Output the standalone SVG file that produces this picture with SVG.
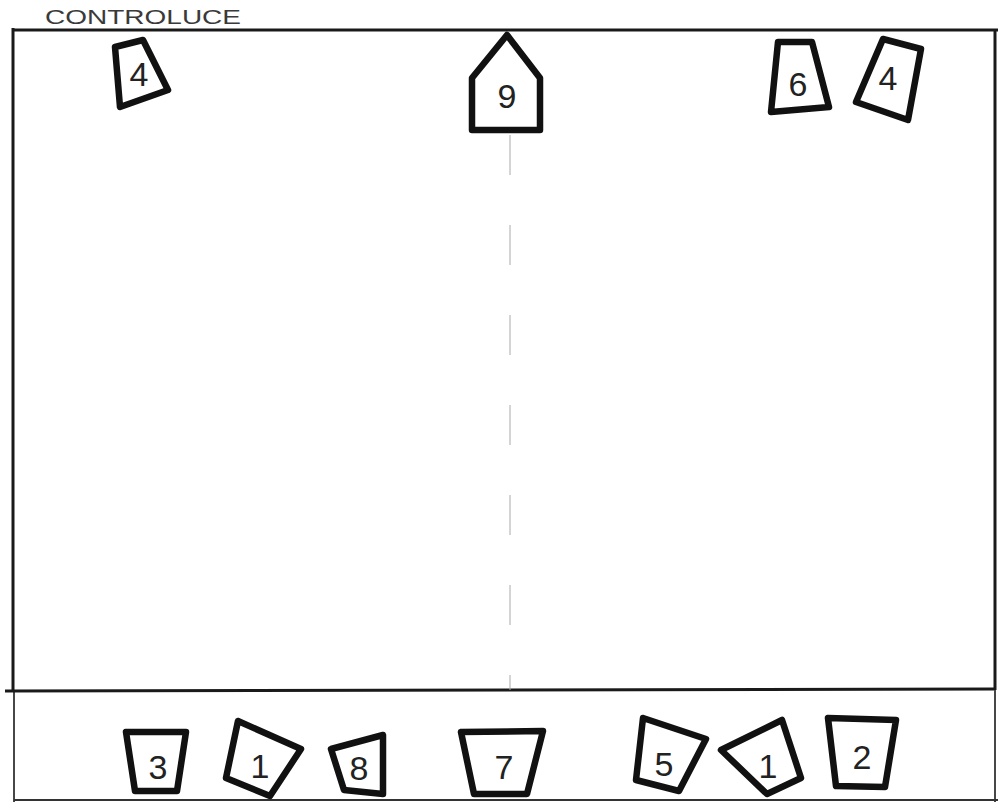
<svg xmlns="http://www.w3.org/2000/svg" width="998" height="802" viewBox="0 0 998 802">
<style>
.fx{fill:#fff;stroke:#111;stroke-width:6.5;stroke-linejoin:round}
.num{font-family:"Liberation Sans",Arial,sans-serif;font-size:34px;fill:#222;text-anchor:middle;dominant-baseline:central}
.frame{stroke:#1a1a1a;stroke-width:3;fill:none}
.thin{stroke:#333;stroke-width:1.8;fill:none}
.title{font-family:"Liberation Sans",Arial,sans-serif;font-size:20px;fill:#3a3a3a}
</style>
<rect width="998" height="802" fill="#fff"/>
<text class="title" x="45" y="24" textLength="196" lengthAdjust="spacingAndGlyphs">CONTROLUCE</text>
<g id="frame">
<line class="frame" x1="12" y1="30" x2="998" y2="30"/>
<line class="frame" x1="13" y1="28" x2="13" y2="692"/>
<line class="thin" x1="14" y1="692" x2="14" y2="802"/>
<line class="frame" x1="5" y1="691" x2="994" y2="689"/>
<line class="frame" x1="995" y1="30" x2="995" y2="690"/>
<line class="thin" x1="995" y1="690" x2="995" y2="802"/>
<line class="thin" x1="14" y1="800" x2="998" y2="800"/>
</g>
<g id="connectors">
<line x1="510" y1="135" x2="510" y2="690" stroke="#aaa" stroke-width="1" stroke-dasharray="40,50"/>
</g>
<g id="f4a"><polygon class="fx" points="115,47 143,40 168,90 120,107"/><text class="num" x="139" y="74">4</text></g>
<g id="f9"><polygon class="fx" points="507,35 540,78 540,130 472,130 472,78"/><text class="num" x="507" y="96">9</text></g>
<g id="f6"><polygon class="fx" points="778,42 812,42 829,107 771,112"/><text class="num" x="798" y="84">6</text></g>
<g id="f4b"><polygon class="fx" points="883,39 921,49 908,120 856,102"/><text class="num" x="888" y="78">4</text></g>
<g id="f3"><polygon class="fx" points="126,732 186,732 177,791 135,791"/><text class="num" x="158" y="767">3</text></g>
<g id="f1a"><polygon class="fx" points="238,721 301,749 270,796 226,778"/><text class="num" x="260" y="766">1</text></g>
<g id="f8"><polygon class="fx" points="331,749 383,735 383,794 344,790"/><text class="num" x="359" y="768">8</text></g>
<g id="f7"><polygon class="fx" points="461,732 543,731 527,794 474,794"/><text class="num" x="504" y="767">7</text></g>
<g id="f5"><polygon class="fx" points="643,718 706,739 679,791 636,780"/><text class="num" x="664" y="764">5</text></g>
<g id="f1b"><polygon class="fx" points="721,750 782,720 801,778 767,794"/><text class="num" x="768" y="766">1</text></g>
<g id="f2"><polygon class="fx" points="828,718 896,720 885,787 836,786"/><text class="num" x="862" y="757">2</text></g>
</svg>
